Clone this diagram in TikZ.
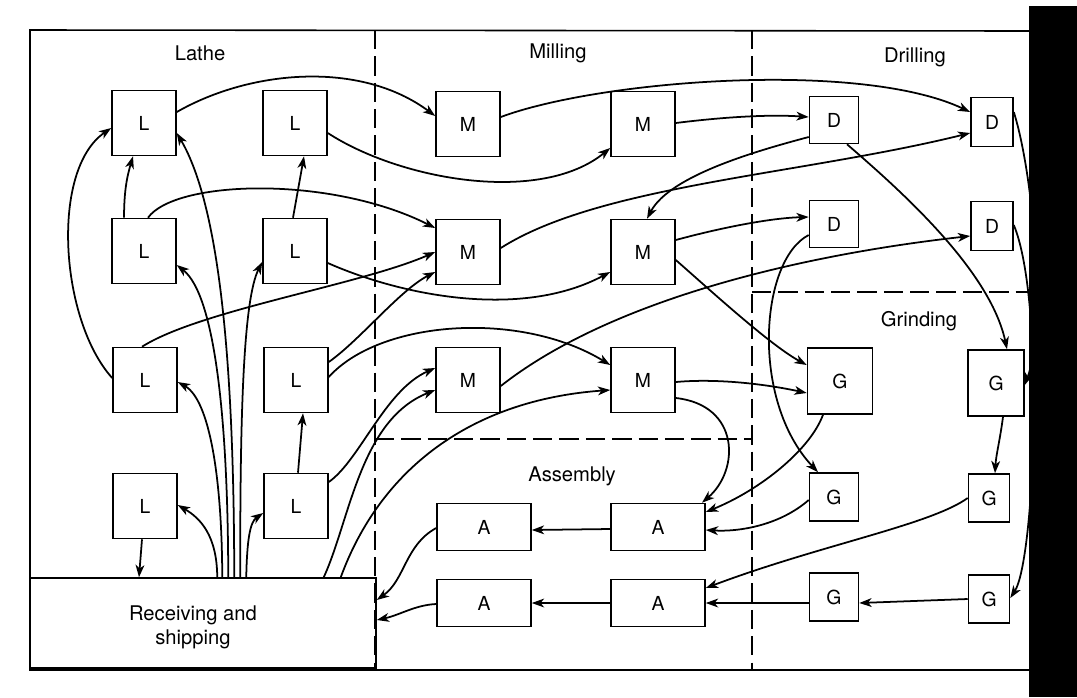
\documentclass[tikz,border=0pt]{standalone}
\usepackage{fontspec}
\setmainfont{TeX Gyre Heros}
\usetikzlibrary{arrows.meta,calc}
\begin{document}
\begin{tikzpicture}[x=0.02cm,y=-0.02cm,
  box/.style={draw,line width=0.9pt,fill=white,inner sep=0pt,font=\fontsize{11}{13}\selectfont},
  lbox/.style={box,minimum width=1.28cm,minimum height=1.30cm},
  dbox/.style={box,minimum width=0.98cm,minimum height=0.94cm},
  dnbox/.style={box,minimum width=0.84cm,minimum height=0.98cm},
  gbig/.style={box,minimum width=1.30cm,minimum height=1.32cm},
  gbign/.style={box,minimum width=1.12cm,minimum height=1.32cm},
  gsm/.style={box,minimum width=0.98cm,minimum height=0.96cm},
  gsmn/.style={box,minimum width=0.82cm,minimum height=0.96cm},
  abox/.style={box,minimum width=1.88cm,minimum height=0.94cm},
  arr/.style={line width=1pt,-{Stealth[length=7pt,width=5pt,inset=2pt]}},
  zone/.style={line width=0.9pt,dash pattern=on 11pt off 4pt},
  lbl/.style={font=\fontsize{11.5}{13.5}\selectfont}]
\useasboundingbox (0,0) rectangle (1077,697);

% zones
\draw[zone] (375,30) -- (375,670);
\draw[zone] (752,30) -- (752,670);
\draw[zone] (375,439) -- (752,439);
\draw[zone] (752,292) -- (1029,292);
\draw[line width=0.9pt] (1029,31) -- (30,30) -- (30,670) -- (1029,670);

% labels
\node[lbl] (tLathe) at (200,53) {Lathe};
\node[lbl] (tMill) at (558,53) {Milling};
\node[lbl] (tDrill) at (915,57) {Drilling};
\node[lbl] (tGrind) at (919,321) {Grinding};
\node[lbl] (tAsm) at (572,476) {Assembly};

% boxes
\node[draw,line width=0.9pt,minimum width=6.92cm,minimum height=1.8cm,inner sep=0pt] (R) at (203,623) {};
\node[lbl,align=center] (Rtext) at (193,627) {Receiving and\\shipping};

\node[lbox] (L1) at (144,123) {L};
\node[lbox] (L2) at (295,123) {L};
\node[lbox] (L3) at (144,251) {L};
\node[lbox] (L4) at (295,251) {L};
\node[lbox] (L5) at (145,380) {L};
\node[lbox] (L6) at (296,380) {L};
\node[lbox] (L7) at (145,506) {L};
\node[lbox] (L8) at (296,506) {L};

\node[lbox] (M1) at (468,124) {M};
\node[lbox] (M2) at (643,124) {M};
\node[lbox] (M3) at (468,252) {M};
\node[lbox] (M4) at (643,252) {M};
\node[lbox] (M5) at (468,380) {M};
\node[lbox] (M6) at (643,380) {M};

\node[dbox] (D1) at (834,120) {D};
\node[dnbox] (D2) at (992,122) {D};
\node[dbox] (D3) at (834,224) {D};
\node[dnbox] (D4) at (992,226) {D};

\node[gbig] (G1) at (840,381) {G};
\node[gbign] (G2) at (996,383) {G};
\node[gsm] (G3) at (834,497) {G};
\node[gsmn] (G4) at (989,498) {G};
\node[gsm] (G5) at (834,597) {G};
\node[gsmn] (G6) at (989,599) {G};

\node[abox] (A1) at (484,527) {A};
\node[abox] (A2) at (658,527) {A};
\node[abox] (A3) at (484,603) {A};
\node[abox] (A4) at (658,603) {A};

% lathe area connectors
\draw[arr] ($(L1.east)+(0,-11)$) .. controls (250,70) and (360,60) .. ($(M1.west)+(0,-8)$);
\draw[arr] ($(L2.east)+(0,10)$) .. controls (400,180) and (540,205) .. ($(M2.west)+(0,24)$);
\draw[arr] ($(L5.west)+(0,-2)$) .. controls (60,320) and (50,170) .. ($(L1.west)+(0,5)$);
\draw[arr] ($(L3.north)+(-20,0)$) to[bend left=8] ($(L1.south)+(-11,0)$);
\draw[arr] ($(L4.north)+(-2,0)$) -- ($(L2.south)+(9,0)$);
\draw[arr] ($(L3.north)+(4,0)$) .. controls (175,180) and (330,175) .. ($(M3.west)+(0,-24)$);
\draw[arr] ($(L5.north)+(-3,0)$) .. controls (200,310) and (360,285) .. (M3.west);
\draw[arr] ($(L4.east)+(0,12)$) .. controls (400,295) and (520,320) .. ($(M4.west)+(0,20)$);
\draw[arr] ($(L6.east)+(0,-18)$) .. controls (360,340) and (400,290) .. ($(M3.west)+(0,20)$);
\draw[arr] ($(L6.east)+(0,-3)$) .. controls (380,320) and (520,310) .. ($(M6.west)+(0,-15)$);
\draw[arr] ($(L8.east)+(0,-24)$) .. controls (360,460) and (385,390) .. ($(M5.west)+(0,-12)$);
\draw[arr] ($(R.north east)+(-53,0)$) .. controls (350,520) and (360,420) .. ($(M5.west)+(0,10)$);
\draw[arr] ($(R.north east)+(-36,0)$) .. controls (380,470) and (470,400) .. ($(M6.west)+(0,10)$);
\draw[arr] ($(L7.south)+(-3,0)$) -- ($(L7.south |- R.north)+(-6,0)$);
\draw[arr] ($(L8.north)+(2,0)$) -- ($(L6.south)+(7,0)$);

% fan from receiving
\draw[arr] ($(R.north west)+(188,0)$) .. controls (217,535) and (200,518) .. ($(L7.east)+(0,-1)$);
\draw[arr] ($(R.north west)+(193,0)$) .. controls (222,480) and (210,400) .. ($(L5.east)+(0,2)$);
\draw[arr] ($(R.north west)+(199,0)$) .. controls (228,420) and (215,295) .. ($(L3.east)+(0,14)$);
\draw[arr] ($(R.north west)+(205,0)$) .. controls (234,380) and (222,210) .. ($(L1.east)+(0,10)$);
\draw[arr] ($(R.north west)+(211,0)$) .. controls (240,420) and (243,300) .. ($(L4.west)+(0,11)$);
\draw[arr] ($(R.north west)+(217,0)$) .. controls (247,540) and (250,522) .. ($(L8.west)+(0,7)$);

% assembly
\draw[arr] ($(A1.west)+(0,1)$) .. controls (405,545) and (405,580) .. ($(R.east)+(0,-23)$);
\draw[arr] ($(A3.west)+(0,1)$) .. controls (415,605) and (400,615) .. ($(R.east)+(0,-3)$);
\draw[arr] ($(A2.west)+(0,2)$) -- ($(A1.east)+(0,3)$);
\draw[arr] (A4.west) -- (A3.east);

% milling / drilling / grinding
\draw[arr] ($(M1.east)+(0,-7)$) .. controls (600,80) and (860,60) .. ($(D2.west)+(0,-10)$);
\draw[arr] ($(M2.east)+(0,-1)$) .. controls (740,115) and (780,115) .. ($(D1.west)+(0,-3)$);
\draw[arr] ($(D1.west)+(0,17)$) .. controls (760,150) and (670,175) .. ($(M4.north)+(4,0)$);
\draw[arr] ($(M3.east)+(0,-4)$) .. controls (600,185) and (800,175) .. ($(D2.west)+(0,11)$);
\draw[arr] ($(M4.east)+(0,-12)$) .. controls (720,228) and (770,218) .. ($(D3.west)+(0,-7)$);
\draw[arr] ($(M4.east)+(0,8)$) .. controls (710,290) and (770,345) .. ($(G1.west)+(0,-16)$);
\draw[arr] ($(M5.east)+(0,6)$) .. controls (610,300) and (800,255) .. ($(D4.west)+(0,10)$);
\draw[arr] ($(M6.east)+(0,2)$) .. controls (720,378) and (770,385) .. ($(G1.west)+(0,12)$);
\draw[arr] ($(M6.east)+(0,18)$) .. controls (740,405) and (740,470) .. ($(A2.north)+(44,0)$);
\draw[arr] ($(D1.south)+(13,0)$) .. controls (900,190) and (990,270) .. ($(G2.north)+(11,0)$);
\draw[arr] ($(D3.west)+(0,11)$) .. controls (760,260) and (750,400) .. ($(G3.north)+(-16,0)$);
\draw[arr] ($(G1.south)+(-17,0)$) .. controls (810,450) and (760,490) .. ($(A2.east)+(0,-15)$);
\draw[arr] ($(G3.west)+(0,3)$) .. controls (780,525) and (740,532) .. ($(A2.east)+(0,3)$);
\draw[arr] ($(G2.south)+(7,0)$) .. controls (1000,440) and (996,455) .. ($(G4.north)+(6,0)$);
\draw[arr] (G4.west) .. controls (930,525) and (820,545) .. ($(A4.east)+(0,-15)$);
\draw[arr] ($(G5.west)+(0,6)$) -- (A4.east);
\draw[arr] (G6.west) -- ($(G5.east)+(0,6)$);
\draw[arr] ($(D2.east)+(0,-10)$) .. controls (1035,180) and (1045,330) .. ($(G2.east)+(0,2)$);
\draw[arr] ($(D4.east)+(0,-1)$) .. controls (1045,300) and (1035,560) .. ($(G6.east)+(0,-1)$);

% scan edge
\fill[black] (1029,6) rectangle (1077,697);
\end{tikzpicture}
\end{document}
